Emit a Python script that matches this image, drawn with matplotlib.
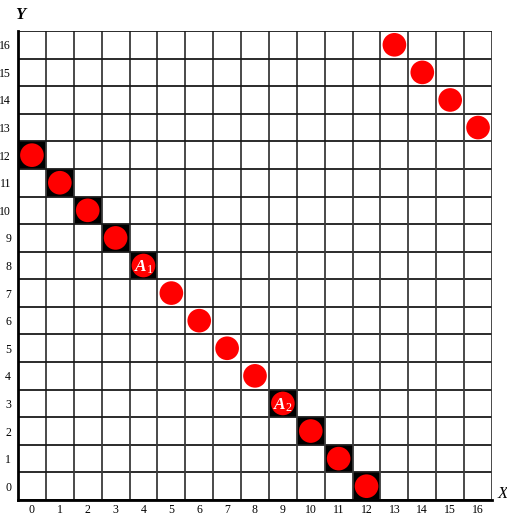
import matplotlib
matplotlib.use("Agg")
import matplotlib.pyplot as plt
from matplotlib.patches import Rectangle

# Data
x_ticks = list(range(17))
y_ticks = list(range(17))
circle_x = [0, 1, 2, 3, 4, 5, 6, 7, 8, 9, 10, 11, 12, 13, 14, 15, 16]
circle_y = [12, 11, 10, 9, 8, 7, 6, 5, 4, 3, 2, 1, 0, 16, 15, 14, 13]
black_x = [0, 1, 2, 3, 4, 9, 10, 11, 12]
black_y = [12, 11, 10, 9, 8, 3, 2, 1, 0]
labels = [r"$A_1$", r"$A_2$"]
label_x = [4, 9]
label_y = [8, 3]

plt.rcParams['mathtext.fontset'] = 'custom'
plt.rcParams['mathtext.it'] = 'Liberation Serif:italic:bold'
plt.rcParams['mathtext.rm'] = 'Liberation Serif'

W, H = 507, 516
fig = plt.figure(figsize=(W / 100, H / 100), dpi=100)
ax = fig.add_axes([18 / W, 16 / H, 474 / W, 469 / H])
ax.set_xlim(0, 17)
ax.set_ylim(0, 17)

for bx, by in zip(black_x, black_y):
    ax.add_patch(Rectangle((bx, by), 1, 1, facecolor='black', edgecolor='none', zorder=1))

for i in range(18):
    ax.axvline(i, color='#3a3a3a', lw=1.3, zorder=2)
    ax.axhline(i, color='#1a1a1a', lw=1.3, zorder=2)

ax.scatter([v + 0.5 for v in circle_x], [v + 0.5 for v in circle_y],
           s=290, color='#ff0000', edgecolors='none', zorder=3)

for t, lx, ly in zip(labels, label_x, label_y):
    ax.text(lx + 0.5, ly + 0.45, t, color='white', fontsize=12.5, ha='center', va='center',
            zorder=4)

for s in ['top', 'right']:
    ax.spines[s].set_visible(False)
for s in ['left', 'bottom']:
    ax.spines[s].set_linewidth(2)
    ax.spines[s].set_color('black')

ax.set_xticks([v + 0.5 for v in x_ticks])
ax.set_xticklabels([str(v) for v in x_ticks], family='Liberation Serif', fontsize=8.5)
ax.set_yticks([v + 0.5 for v in y_ticks])
ax.set_yticklabels([str(v) for v in y_ticks], family='Liberation Serif', fontsize=8.5)
ax.tick_params(length=0)
ax.tick_params(axis='x', pad=3)
ax.tick_params(axis='y', pad=5)

fig.text(20 / W, 1 - 15 / H, "Y", family='Liberation Serif', style='italic', fontweight='bold',
         fontsize=12, ha='center', va='center')
fig.text(503 / W, 1 - 494 / H, "X", family='Liberation Serif', style='italic',
         fontsize=12, ha='center', va='center')

fig.savefig("out.png", dpi=100)
